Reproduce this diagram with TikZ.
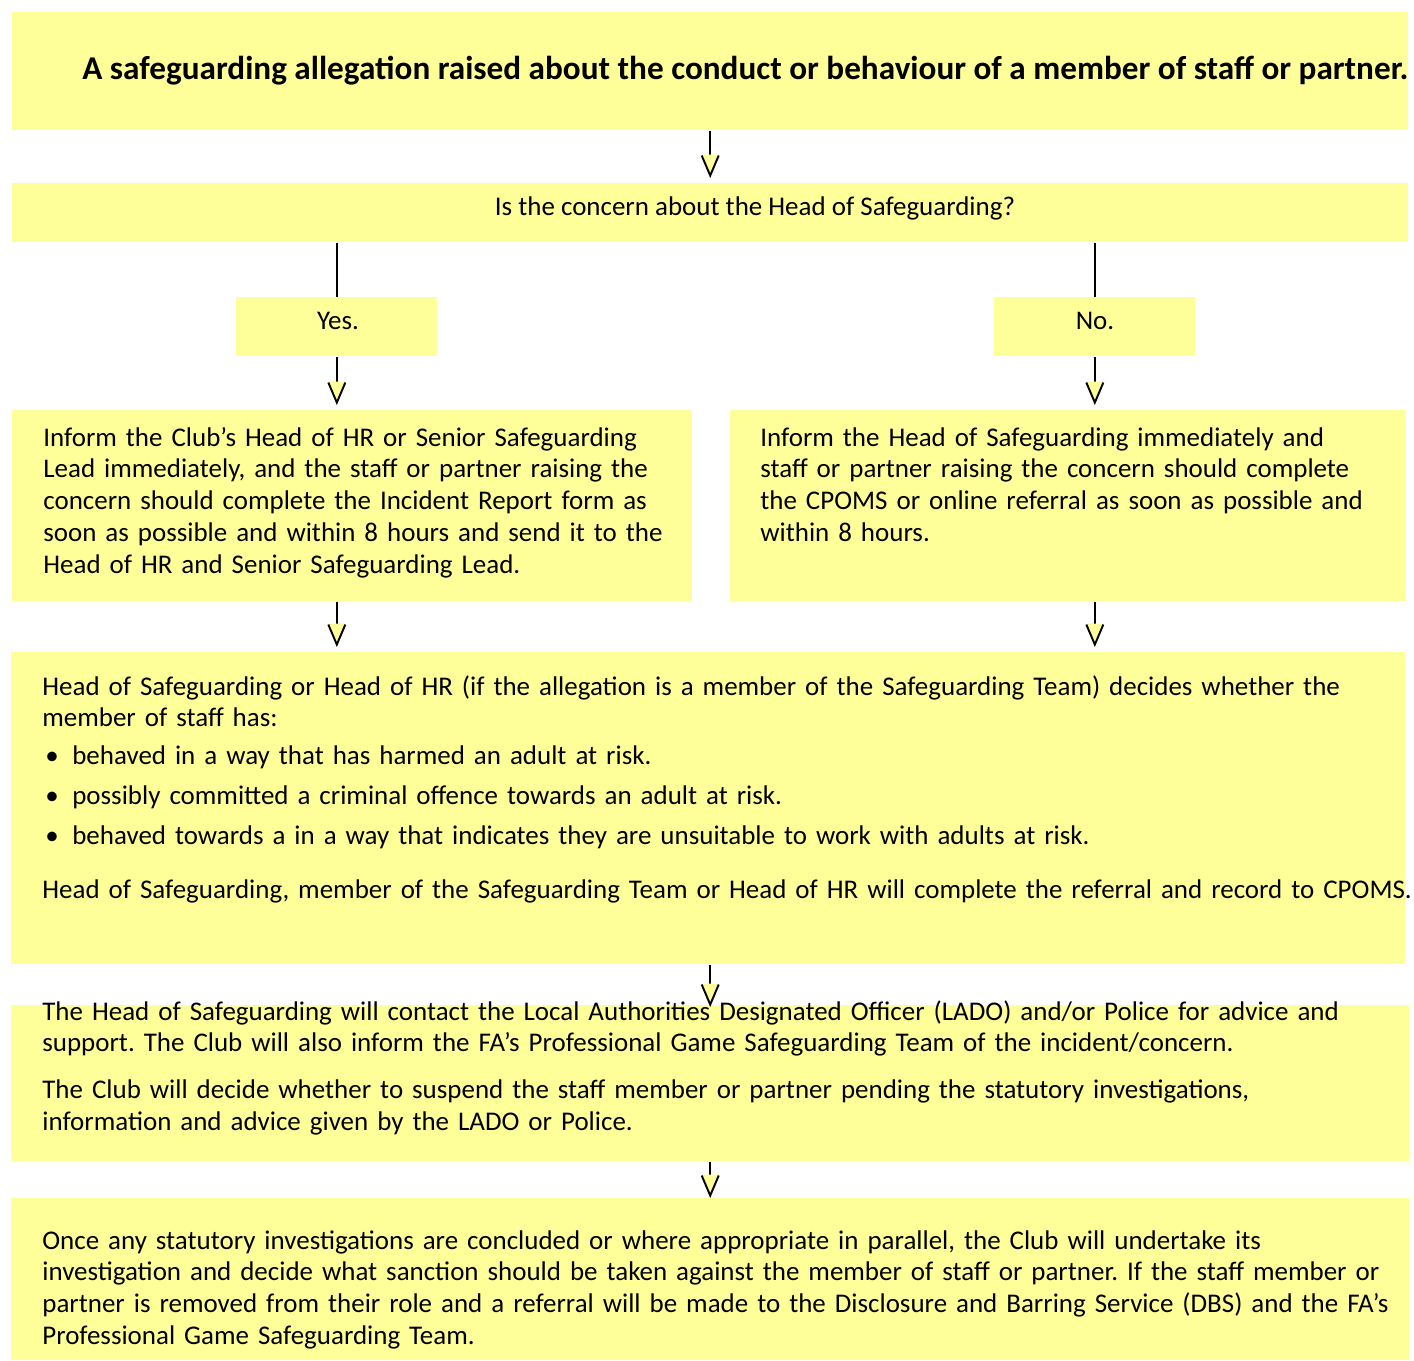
\documentclass[tikz,border=0pt]{standalone}
\usepackage{fontspec}
\setmainfont{Carlito}
\usetikzlibrary{arrows.meta}
\definecolor{boxyellow}{RGB}{255,255,153}
\frenchspacing

\begin{document}
\begin{tikzpicture}[x=0.02cm,y=-0.02cm,
    box/.style={fill=boxyellow, inner sep=0pt, anchor=north west},
    txt/.style={anchor=base west, inner sep=0pt, align=left, text width=27.5cm,
        font=\fontsize{15.35pt}{18.14pt}\selectfont},
    arr/.style={line width=1.1pt,
        -{Triangle[length=0.4cm,width=0.34cm,color=boxyellow,sep=-0.4cm]Straight Barb[length=0.4cm,width=0.34cm]}},
    link/.style={line width=1.1pt}]
    \useasboundingbox (0,0) rectangle (1414,1360);

    % Kästen
    \node[box, minimum width=27.92cm, minimum height=2.36cm] (top) at (12,12) {};
    \node[box, minimum width=27.92cm, minimum height=1.18cm] (ask) at (12,183) {};
    \node[box, minimum width=4.02cm, minimum height=1.18cm] (yes) at (236,297) {};
    \node[box, minimum width=4.02cm, minimum height=1.18cm] (no) at (994,297) {};
    \node[box, minimum width=13.6cm, minimum height=3.82cm] (hr) at (12,410) {};
    \node[box, minimum width=13.52cm, minimum height=3.82cm] (hos) at (730,410) {};
    \node[box, minimum width=27.88cm, minimum height=6.24cm] (decide) at (11,652) {};
    \node[box, minimum width=27.96cm, minimum height=3.12cm] (lado) at (11,1005) {};
    \node[box, minimum width=27.96cm, minimum height=3.24cm] (sanction) at (11,1198) {};

    % Texte
    \node[anchor=base west, inner sep=0pt, font=\fontsize{18.9pt}{22pt}\selectfont\bfseries] (toptxt) at (82,79)
        {A safeguarding allegation raised about the conduct or behaviour of a member of staff or partner.};
    \node[anchor=base, inner sep=0pt, font=\fontsize{15.35pt}{18.14pt}\selectfont] (asktxt) at (755,215)
        {Is the concern about the Head of Safeguarding?};
    \node[anchor=base, inner sep=0pt, font=\fontsize{15.35pt}{18.14pt}\selectfont] (yestxt) at (338,329) {Yes.};
    \node[anchor=base, inner sep=0pt, font=\fontsize{15.35pt}{18.14pt}\selectfont] (notxt) at (1095,329) {No.};

    \node[txt] (hrtxt) at (43,446) {Inform the Club’s Head of HR or Senior Safeguarding\\
        Lead immediately, and the staff or partner raising the\\
        concern should complete the Incident Report form as\\
        soon as possible and within 8 hours and send it to the\\
        Head of HR and Senior Safeguarding Lead.};
    \node[txt] (hostxt) at (760,446) {Inform the Head of Safeguarding immediately and\\
        staff or partner raising the concern should complete\\
        the CPOMS or online referral as soon as possible and\\
        within 8 hours.};

    \node[txt] (decidetxt) at (42,695) {Head of Safeguarding or Head of HR (if the allegation is a member of the Safeguarding Team) decides whether the\\
        member of staff has:\\[0.12cm]
        \makebox[0.6cm][l]{\hspace{0.06cm}•}behaved in a way that has harmed an adult at risk.\\[0.16cm]
        \makebox[0.6cm][l]{\hspace{0.06cm}•}possibly committed a criminal offence towards an adult at risk.\\[0.16cm]
        \makebox[0.6cm][l]{\hspace{0.06cm}•}behaved towards a in a way that indicates they are unsuitable to work with adults at risk.\\[0.44cm]
        Head of Safeguarding, member of the Safeguarding Team or Head of HR will complete the referral and record to CPOMS.};

    \node[txt] (ladotxt) at (42,1020) {The Head of Safeguarding will contact the Local Authorities Designated Officer (LADO) and/or Police for advice and\\
        support. The Club will also inform the FA’s Professional Game Safeguarding Team of the incident/concern.\\[0.3cm]
        The Club will decide whether to suspend the staff member or partner pending the statutory investigations,\\
        information and advice given by the LADO or Police.};

    \node[txt] (sanctiontxt) at (42,1249) {Once any statutory investigations are concluded or where appropriate in parallel, the Club will undertake its\\
        investigation and decide what sanction should be taken against the member of staff or partner. If the staff member or\\
        partner is removed from their role and a referral will be made to the Disclosure and Barring Service (DBS) and the FA’s\\
        Professional Game Safeguarding Team.};

    % Pfeile
    \draw[arr, shorten >=0.1cm] (top.south) -- (ask.north);
    \draw[link] (ask.south -| yes.north) -- (yes.north);
    \draw[link] (ask.south -| no.north) -- (no.north);
    \draw[arr, shorten >=0.1cm] (yes.south) -- (yes.south |- hr.north);
    \draw[arr, shorten >=0.1cm] (no.south) -- (no.south |- hos.north);
    \draw[arr, shorten >=0.1cm] (hr.south -| yes.south) -- (yes.south |- decide.north);
    \draw[arr, shorten >=0.1cm] (hos.south -| no.south) -- (no.south |- decide.north);
    \draw[arr, shorten >=-0.04cm] (decide.south -| top.south) -- (top.south |- lado.north);
    \draw[arr] (lado.south -| top.south) -- (top.south |- sanction.north);
\end{tikzpicture}
\end{document}
